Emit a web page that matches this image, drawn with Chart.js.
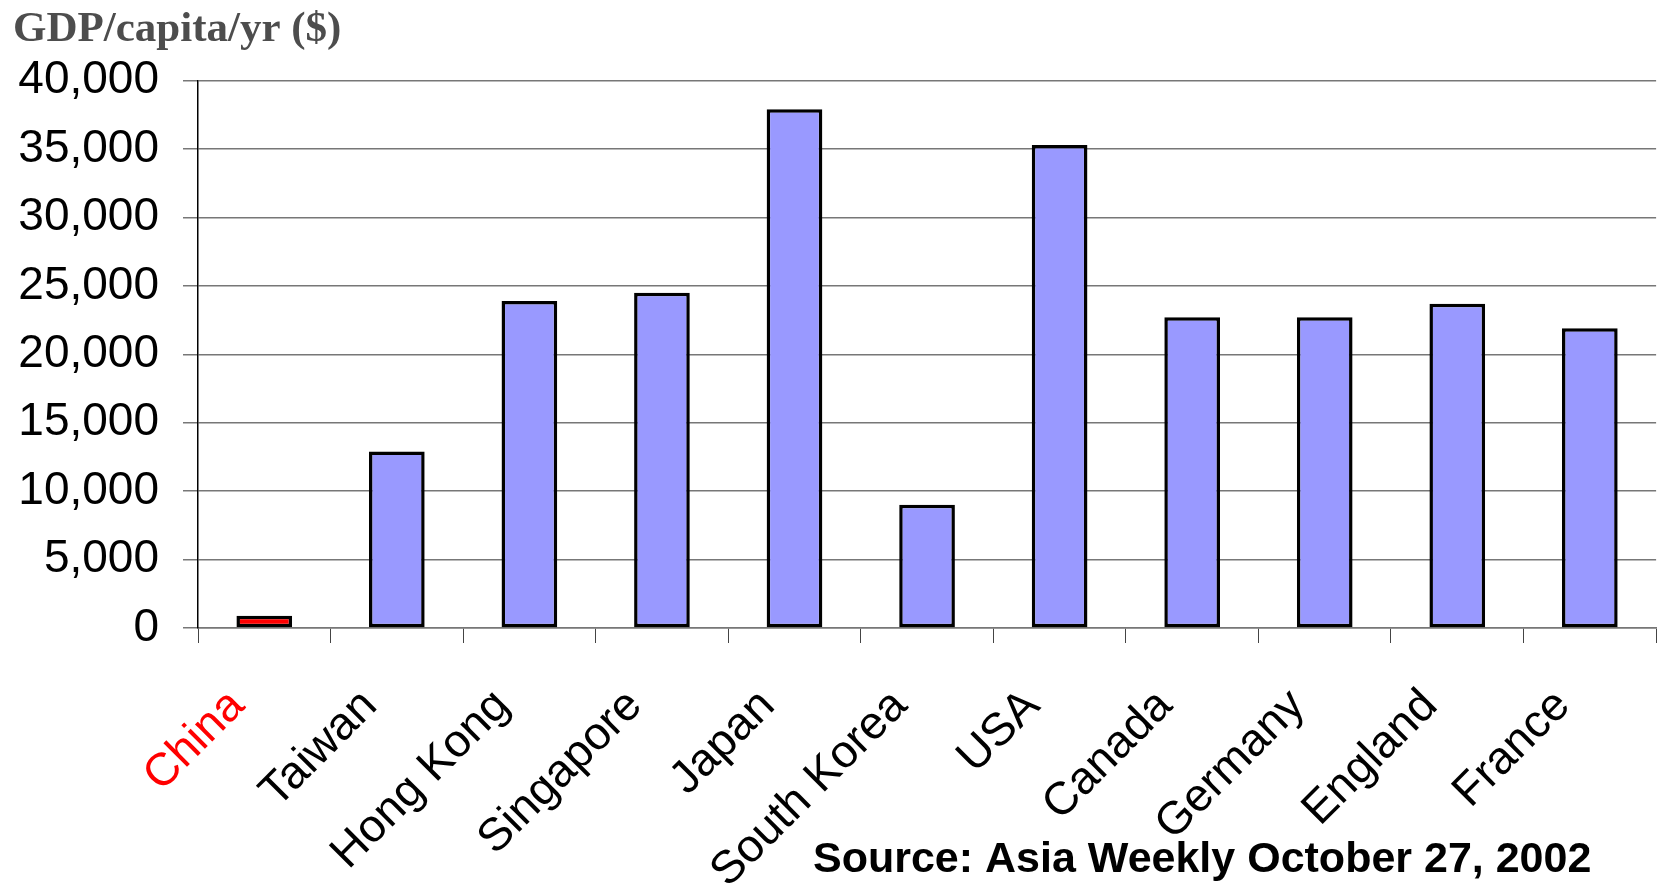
<!DOCTYPE html>
<html>
<head>
<meta charset="utf-8">
<script src="https://cdn.jsdelivr.net/npm/chart.js@4.4.1/dist/chart.umd.min.js"></script>
<style>
  html, body { margin: 0; padding: 0; background: #fff; }
  #wrap { width: 1665px; height: 889px; }
</style>
</head>
<body>
<div id="wrap"><canvas id="gdpChart"></canvas></div>
<script>
// data
const countries = ['China', 'Taiwan', 'Hong Kong', 'Singapore', 'Japan', 'South Korea',
                   'USA', 'Canada', 'Germany', 'England', 'France'];
const gdpPerCapita = [900, 12900, 23900, 24500, 37900, 9000, 35300, 22700, 22700, 23700, 21900];
const highlighted = 'China';

const barColor = '#9999ff';
const highlightColor = '#ff0000';
const gridColor = '#777777';

const chartTitle = 'GDP/capita/yr ($)';
const sourceNote = 'Source: Asia Weekly October 27, 2002';

// draws the source line over the bottom of the chart
const sourcePlugin = {
    id: 'sourceNote',
    afterDraw(chart) {
        const ctx = chart.ctx;
        ctx.save();
        ctx.font = 'bold 43px "Liberation Sans", Arial, sans-serif';
        ctx.fillStyle = '#000';
        ctx.textBaseline = 'alphabetic';
        ctx.fillText(sourceNote, 813, 872);
        ctx.restore();
    }
};

const ctx = document.getElementById('gdpChart').getContext('2d');
new Chart(ctx, {
    type: 'bar',
    data: {
        labels: countries,
        datasets: [{
            data: gdpPerCapita,
            backgroundColor: countries.map(c => c === highlighted ? highlightColor : barColor),
            borderColor: '#000',
            borderWidth: 3.5,
            borderSkipped: false,
            barPercentage: 0.42,
            categoryPercentage: 1.0
        }]
    },
    options: {
        responsive: true,
        maintainAspectRatio: false,
        animation: false,
        layout: { padding: { left: 13, right: 3, top: 0, bottom: 0 } },
        plugins: {
            legend: { display: false },
            tooltip: { enabled: false },
            title: {
                display: true,
                text: chartTitle,
                align: 'start',
                color: '#4d4d4d',
                font: { family: '"Liberation Serif", "Times New Roman", serif', size: 43, weight: 'bold' },
                padding: { top: 4, bottom: 25 }
            }
        },
        scales: {
            x: {
                grid: {
                    offset: true,
                    drawOnChartArea: false,
                    drawTicks: true,
                    tickLength: 15,
                    color: '#444'
                },
                border: { display: true, color: gridColor, width: 1.5 },
                ticks: {
                    autoSkip: false,
                    maxRotation: 45,
                    minRotation: 45,
                    padding: 36,
                    labelOffset: -27,
                    color: c => countries[c.index] === highlighted ? highlightColor : '#000',
                    font: { family: '"Liberation Sans", Arial, sans-serif', size: 46 }
                },
                afterFit(scale) { scale.height = 261; }
            },
            y: {
                min: 0,
                max: 40000,
                grid: {
                    color: gridColor,
                    lineWidth: 1.5,
                    tickLength: 15
                },
                border: { display: true, color: '#000', width: 1.5 },
                ticks: {
                    stepSize: 5000,
                    padding: 24,
                    color: '#000',
                    font: { family: '"Liberation Sans", Arial, sans-serif', size: 46 },
                    callback: v => v.toLocaleString('en-US')
                },
                afterFit(scale) { scale.width = 185; }
            }
        }
    },
    plugins: [sourcePlugin]
});
</script>
</body>
</html>
